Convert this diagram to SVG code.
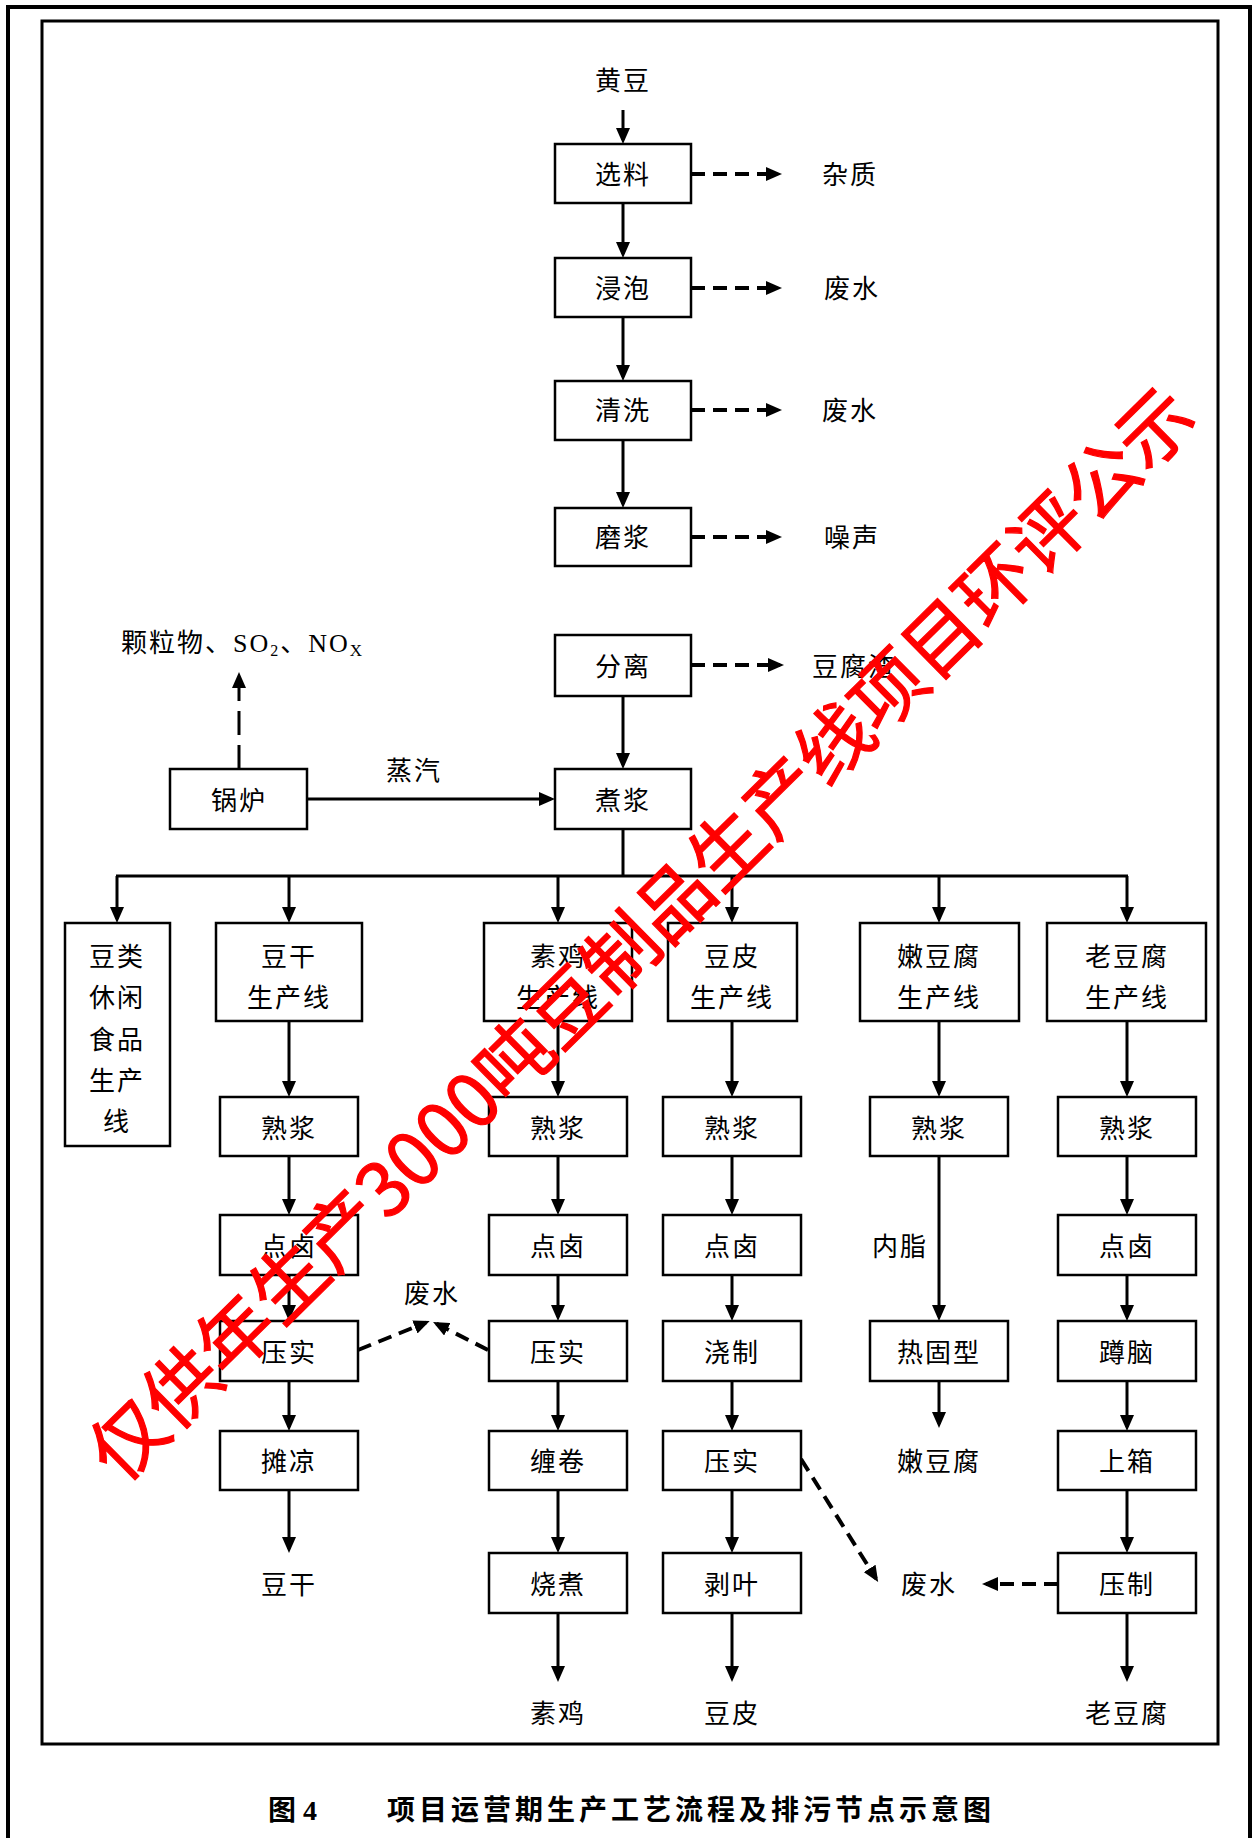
<svg xmlns="http://www.w3.org/2000/svg" width="1257" height="1838" viewBox="0 0 1257 1838">
<style>
.box{fill:#fff;stroke:#000;stroke-width:2.5}
.t{font-family:"Liberation Serif","Noto Sans CJK SC",serif;font-size:26px;letter-spacing:2px;text-anchor:middle;dominant-baseline:central;fill:#000}
.c{stroke:#000;stroke-width:3;fill:none}
.d{stroke:#000;stroke-width:4;fill:none;stroke-dasharray:14 8}
.cap{font-family:"Liberation Serif","Noto Sans CJK SC",serif;font-size:28px;font-weight:bold;dominant-baseline:central;fill:#000}
</style>
<defs>
<marker id="ah" markerUnits="userSpaceOnUse" markerWidth="16" markerHeight="14" viewBox="0 0 16 14" refX="12" refY="7" orient="auto"><path d="M0,0 L16,7 L0,14 z" fill="#000"/></marker>
</defs>
<rect x="8" y="7" width="1242" height="1850" fill="#fff" stroke="#000" stroke-width="4"/>
<rect x="42" y="21" width="1176" height="1723" fill="none" stroke="#000" stroke-width="3"/>

<g id="connectors">
<line class="c" x1="623" y1="110" x2="623" y2="140" marker-end="url(#ah)"/>
<line class="c" x1="623" y1="203" x2="623" y2="254" marker-end="url(#ah)"/>
<line class="c" x1="623" y1="317" x2="623" y2="377" marker-end="url(#ah)"/>
<line class="c" x1="623" y1="440" x2="623" y2="504" marker-end="url(#ah)"/>
<line class="c" x1="623" y1="696" x2="623" y2="765" marker-end="url(#ah)"/>
<line class="d" x1="691" y1="174" x2="778" y2="174" marker-end="url(#ah)"/>
<line class="d" x1="691" y1="288" x2="778" y2="288" marker-end="url(#ah)"/>
<line class="d" x1="691" y1="410" x2="778" y2="410" marker-end="url(#ah)"/>
<line class="d" x1="691" y1="537" x2="778" y2="537" marker-end="url(#ah)"/>
<line class="d" x1="691" y1="665" x2="780" y2="665" marker-end="url(#ah)"/>
<line class="c" x1="307" y1="799" x2="551" y2="799" marker-end="url(#ah)"/>
<line class="c" x1="239" y1="769" x2="239" y2="676" stroke-dasharray="24 10" marker-end="url(#ah)"/>
<line class="c" x1="623" y1="829" x2="623" y2="876"/>
<line class="c" x1="116" y1="876" x2="1128" y2="876" stroke-width="3.5"/>
<line class="c" x1="117" y1="876" x2="117" y2="919" marker-end="url(#ah)"/>
<line class="c" x1="289" y1="876" x2="289" y2="919" marker-end="url(#ah)"/>
<line class="c" x1="558" y1="876" x2="558" y2="919" marker-end="url(#ah)"/>
<line class="c" x1="732" y1="876" x2="732" y2="919" marker-end="url(#ah)"/>
<line class="c" x1="939" y1="876" x2="939" y2="919" marker-end="url(#ah)"/>
<line class="c" x1="1127" y1="876" x2="1127" y2="919" marker-end="url(#ah)"/>
<line class="c" x1="289" y1="1021" x2="289" y2="1093" marker-end="url(#ah)"/>
<line class="c" x1="289" y1="1156" x2="289" y2="1211" marker-end="url(#ah)"/>
<line class="c" x1="289" y1="1275" x2="289" y2="1317" marker-end="url(#ah)"/>
<line class="c" x1="289" y1="1381" x2="289" y2="1427" marker-end="url(#ah)"/>
<line class="c" x1="289" y1="1490" x2="289" y2="1549" marker-end="url(#ah)"/>
<line class="c" x1="558" y1="1021" x2="558" y2="1093" marker-end="url(#ah)"/>
<line class="c" x1="558" y1="1156" x2="558" y2="1211" marker-end="url(#ah)"/>
<line class="c" x1="558" y1="1275" x2="558" y2="1317" marker-end="url(#ah)"/>
<line class="c" x1="558" y1="1381" x2="558" y2="1427" marker-end="url(#ah)"/>
<line class="c" x1="558" y1="1490" x2="558" y2="1549" marker-end="url(#ah)"/>
<line class="c" x1="558" y1="1613" x2="558" y2="1678" marker-end="url(#ah)"/>
<line class="c" x1="732" y1="1021" x2="732" y2="1093" marker-end="url(#ah)"/>
<line class="c" x1="732" y1="1156" x2="732" y2="1211" marker-end="url(#ah)"/>
<line class="c" x1="732" y1="1275" x2="732" y2="1317" marker-end="url(#ah)"/>
<line class="c" x1="732" y1="1381" x2="732" y2="1427" marker-end="url(#ah)"/>
<line class="c" x1="732" y1="1490" x2="732" y2="1549" marker-end="url(#ah)"/>
<line class="c" x1="732" y1="1613" x2="732" y2="1678" marker-end="url(#ah)"/>
<line class="c" x1="939" y1="1021" x2="939" y2="1093" marker-end="url(#ah)"/>
<line class="c" x1="939" y1="1156" x2="939" y2="1317" marker-end="url(#ah)"/>
<line class="c" x1="939" y1="1381" x2="939" y2="1424" marker-end="url(#ah)"/>
<line class="c" x1="1127" y1="1021" x2="1127" y2="1093" marker-end="url(#ah)"/>
<line class="c" x1="1127" y1="1156" x2="1127" y2="1211" marker-end="url(#ah)"/>
<line class="c" x1="1127" y1="1275" x2="1127" y2="1317" marker-end="url(#ah)"/>
<line class="c" x1="1127" y1="1381" x2="1127" y2="1427" marker-end="url(#ah)"/>
<line class="c" x1="1127" y1="1490" x2="1127" y2="1549" marker-end="url(#ah)"/>
<line class="c" x1="1127" y1="1613" x2="1127" y2="1678" marker-end="url(#ah)"/>
<line class="d" x1="358" y1="1350" x2="426" y2="1322.5" stroke-dasharray="13 9" marker-end="url(#ah)"/>
<line class="d" x1="488" y1="1350" x2="436.6" y2="1323.8" stroke-dasharray="15 9 3 9" marker-end="url(#ah)"/>
<line class="d" x1="801" y1="1459" x2="876" y2="1578.6" stroke-dasharray="13 8" marker-end="url(#ah)"/>
<line class="d" x1="1058" y1="1584" x2="986" y2="1584" stroke-dasharray="13 8" marker-end="url(#ah)"/>
</g>

<g id="n-huangdou"><text class="t" x="623" y="81">黄豆</text></g>
<g id="n-xuanliao"><rect class="box" x="555" y="144" width="136" height="59"/><text class="t" x="623" y="175">选料</text></g>
<g id="o-zazhi"><text class="t" x="850" y="175">杂质</text></g>
<g id="n-jinpao"><rect class="box" x="555" y="258" width="136" height="59"/><text class="t" x="623" y="289">浸泡</text></g>
<g id="o-feishui1"><text class="t" x="852" y="289">废水</text></g>
<g id="n-qingxi"><rect class="box" x="555" y="381" width="136" height="59"/><text class="t" x="623" y="411">清洗</text></g>
<g id="o-feishui2"><text class="t" x="850" y="411">废水</text></g>
<g id="n-mojiang"><rect class="box" x="555" y="508" width="136" height="58"/><text class="t" x="623" y="538">磨浆</text></g>
<g id="o-zaosheng"><text class="t" x="852" y="538">噪声</text></g>
<g id="n-fenli"><rect class="box" x="555" y="635" width="136" height="61"/><text class="t" x="623" y="667">分离</text></g>
<g id="o-douzha"><text class="t" x="854" y="667">豆腐渣</text></g>
<g id="n-zhujiang"><rect class="box" x="555" y="769" width="136" height="60"/><text class="t" x="623" y="801">煮浆</text></g>
<g id="n-guolu"><rect class="box" x="170" y="769" width="137" height="60"/><text class="t" x="239" y="801">锅炉</text></g>
<g id="l-zhengqi"><text class="t" x="414" y="771">蒸汽</text></g>
<g id="o-gas"><text class="t" x="121" y="652" style="text-anchor:start;dominant-baseline:auto">颗粒物、SO<tspan font-size="16" dy="4">2</tspan><tspan dy="-4">、NO</tspan><tspan font-size="17" dy="4">X</tspan></text></g>

<g id="n-doulei"><rect class="box" x="65" y="923" width="105" height="223"/>
<text class="t" x="117" y="957">豆类</text><text class="t" x="117" y="998">休闲</text><text class="t" x="117" y="1040">食品</text><text class="t" x="117" y="1081">生产</text><text class="t" x="117" y="1122">线</text></g>
<g id="n-dougan"><rect class="box" x="216" y="923" width="146" height="98"/><text class="t" x="289" y="957">豆干</text><text class="t" x="289" y="998">生产线</text></g>
<g id="n-suji"><rect class="box" x="484" y="923" width="148" height="98"/><text class="t" x="558" y="957">素鸡</text><text class="t" x="558" y="998">生产线</text></g>
<g id="n-doupi"><rect class="box" x="668" y="923" width="129" height="98"/><text class="t" x="732" y="957">豆皮</text><text class="t" x="732" y="998">生产线</text></g>
<g id="n-nendoufu"><rect class="box" x="860" y="923" width="159" height="98"/><text class="t" x="939" y="957">嫩豆腐</text><text class="t" x="939" y="998">生产线</text></g>
<g id="n-laodoufu"><rect class="box" x="1047" y="923" width="159" height="98"/><text class="t" x="1127" y="957">老豆腐</text><text class="t" x="1127" y="998">生产线</text></g>

<g id="n-dg-shujiang"><rect class="box" x="220" y="1097" width="138" height="59"/><text class="t" x="289" y="1129">熟浆</text></g>
<g id="n-sj-shujiang"><rect class="box" x="489" y="1097" width="138" height="59"/><text class="t" x="558" y="1129">熟浆</text></g>
<g id="n-dp-shujiang"><rect class="box" x="663" y="1097" width="138" height="59"/><text class="t" x="732" y="1129">熟浆</text></g>
<g id="n-nd-shujiang"><rect class="box" x="870" y="1097" width="138" height="59"/><text class="t" x="939" y="1129">熟浆</text></g>
<g id="n-ld-shujiang"><rect class="box" x="1058" y="1097" width="138" height="59"/><text class="t" x="1127" y="1129">熟浆</text></g>

<g id="n-dg-dianlu"><rect class="box" x="220" y="1215" width="138" height="60"/><text class="t" x="289" y="1247">点卤</text></g>
<g id="n-sj-dianlu"><rect class="box" x="489" y="1215" width="138" height="60"/><text class="t" x="558" y="1247">点卤</text></g>
<g id="n-dp-dianlu"><rect class="box" x="663" y="1215" width="138" height="60"/><text class="t" x="732" y="1247">点卤</text></g>
<g id="l-neizhi"><text class="t" x="900" y="1247">内脂</text></g>
<g id="n-ld-dianlu"><rect class="box" x="1058" y="1215" width="138" height="60"/><text class="t" x="1127" y="1247">点卤</text></g>

<g id="n-dg-yashi"><rect class="box" x="220" y="1321" width="138" height="60"/><text class="t" x="289" y="1353">压实</text></g>
<g id="o-feishui3"><text class="t" x="432" y="1294">废水</text></g>
<g id="n-sj-yashi"><rect class="box" x="489" y="1321" width="138" height="60"/><text class="t" x="558" y="1353">压实</text></g>
<g id="n-dp-jiaozhi"><rect class="box" x="663" y="1321" width="138" height="60"/><text class="t" x="732" y="1353">浇制</text></g>
<g id="n-nd-reguxing"><rect class="box" x="870" y="1321" width="138" height="60"/><text class="t" x="939" y="1353">热固型</text></g>
<g id="n-ld-dunnao"><rect class="box" x="1058" y="1321" width="138" height="60"/><text class="t" x="1127" y="1353">蹲脑</text></g>

<g id="n-dg-tanliang"><rect class="box" x="220" y="1431" width="138" height="59"/><text class="t" x="289" y="1462">摊凉</text></g>
<g id="n-sj-chanjuan"><rect class="box" x="489" y="1431" width="138" height="59"/><text class="t" x="558" y="1462">缠卷</text></g>
<g id="n-dp-yashi"><rect class="box" x="663" y="1431" width="138" height="59"/><text class="t" x="732" y="1462">压实</text></g>
<g id="p-nendoufu"><text class="t" x="939" y="1462">嫩豆腐</text></g>
<g id="n-ld-shangxiang"><rect class="box" x="1058" y="1431" width="138" height="59"/><text class="t" x="1127" y="1462">上箱</text></g>

<g id="p-dougan"><text class="t" x="289" y="1585">豆干</text></g>
<g id="n-sj-shaozhu"><rect class="box" x="489" y="1553" width="138" height="60"/><text class="t" x="558" y="1585">烧煮</text></g>
<g id="n-dp-boye"><rect class="box" x="663" y="1553" width="138" height="60"/><text class="t" x="732" y="1585">剥叶</text></g>
<g id="o-feishui4"><text class="t" x="929" y="1585">废水</text></g>
<g id="n-ld-yazhi"><rect class="box" x="1058" y="1553" width="138" height="60"/><text class="t" x="1127" y="1585">压制</text></g>

<g id="p-suji"><text class="t" x="558" y="1714">素鸡</text></g>
<g id="p-doupi"><text class="t" x="732" y="1714">豆皮</text></g>
<g id="p-laodoufu"><text class="t" x="1127" y="1714">老豆腐</text></g>

<g id="caption">
<text class="cap" x="268" y="1810">图 4</text>
<text class="cap" x="387" y="1810" style="letter-spacing:4px">项目运营期生产工艺流程及排污节点示意图</text>
</g>

<g id="watermark">
<text x="638" y="930" transform="rotate(-44.6 638 930)" font-family="'Noto Sans CJK SC',sans-serif" font-size="75" fill="#ff0000" stroke="#ff0000" stroke-width="1.2" text-anchor="middle" dominant-baseline="central">仅供年生产3000吨豆制品生产线项目环评公示</text>
</g>
</svg>
